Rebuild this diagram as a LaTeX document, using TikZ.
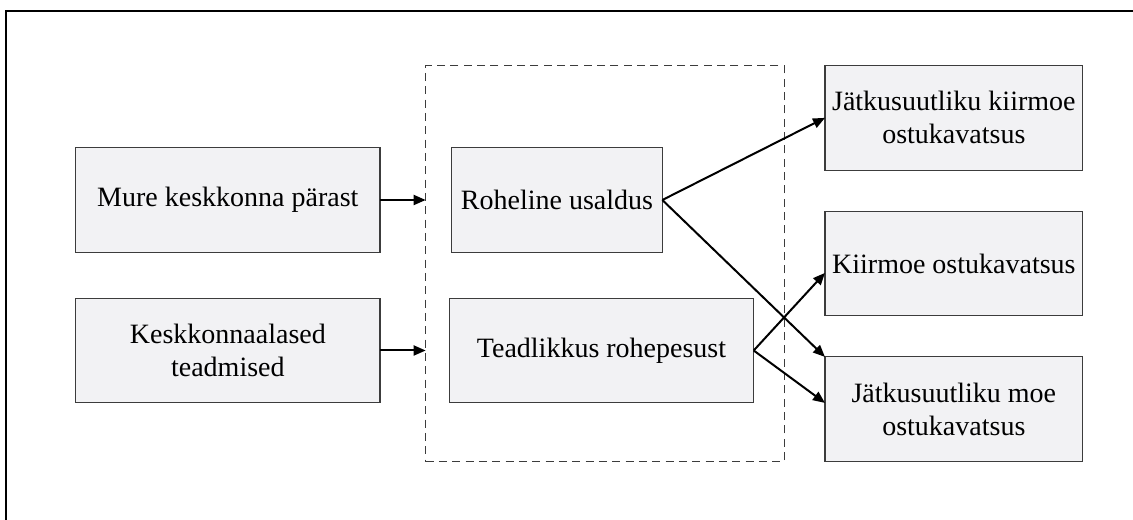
\documentclass[tikz,border=0pt]{standalone}
\usepackage{fontspec}
\setmainfont{Liberation Serif}
\usetikzlibrary{arrows.meta,calc}
\definecolor{boxfill}{HTML}{F2F2F4}
\definecolor{boxline}{HTML}{3C3C3C}
\tikzset{
  box/.style={draw=boxline, fill=boxfill, line width=0.8pt, inner sep=0pt, outer sep=0pt,
    minimum height=78.4pt, align=center, font=\fontsize{21}{24.8}\selectfont},
  group/.style={draw=boxline, dash pattern=on 6pt off 4pt, line width=0.8pt, inner sep=0pt, outer sep=0pt},
  link/.style={line width=1.5pt, -{Triangle[length=9pt,width=7.5pt]}},
  frame/.style={line width=1.6pt}
}
\begin{document}
\begin{tikzpicture}[x=0.75pt,y=-0.75pt]
\useasboundingbox (0,0) rectangle (1133,520);
% outer frame
\draw[frame] (6,520) |- (1133,10.7);
% dashed grouping of the mediators
\node[group, minimum width=268.8pt, minimum height=297pt] (grp) at (604.85,263.7) {};
% inputs
\node[box, minimum width=228.2pt] (m) at (227.85,200) {Mure keskkonna pärast};
\node[box, minimum width=228.2pt] (k) at (227.85,350.5) {Keskkonnaalased\\teadmised};
% mediators
\node[box, minimum width=158pt] (r) at (557,200) {Roheline usaldus};
\node[box, minimum width=228.3pt] (t) at (601.5,350.5) {Teadlikkus rohepesust};
% outcomes
\node[box, minimum width=193.3pt] (a) at (953.85,117.85) {Jätkusuutliku kiirmoe\\ostukavatsus};
\node[box, minimum width=193.3pt] (b) at (953.85,263.5) {Kiirmoe ostukavatsus};
\node[box, minimum width=193.3pt] (c) at (953.85,409.2) {Jätkusuutliku moe\\ostukavatsus};
% connectors
\draw[link] (m.east) -- (grp.west |- m.east);
\draw[link] (k.east) -- (grp.west |- k.east);
\draw[link] (r.east) -- (a.west);
\draw[link] (r.east) -- (c.north west);
\draw[link] (t.east) -- ($(b.north west)!0.59!(b.south west)$);
\draw[link] (t.east) -- ($(c.north west)!0.44!(c.south west)$);
\end{tikzpicture}
\end{document}
